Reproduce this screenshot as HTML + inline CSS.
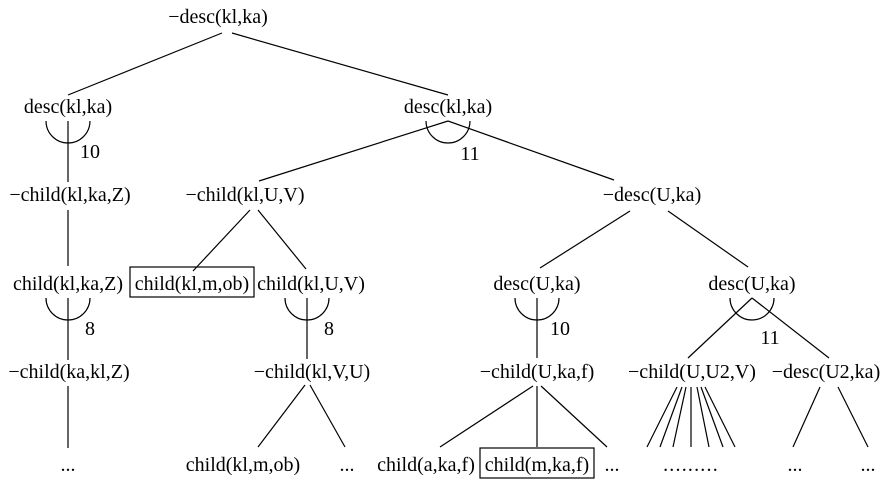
<!DOCTYPE html>
<html><head><style>
html,body{margin:0;padding:0;background:#fff;}
svg{display:block;}
text{font-family:"Liberation Serif",serif;font-size:20px;fill:#000;text-anchor:middle;}
</style></head><body>
<svg width="888" height="480" viewBox="0 0 888 480" xmlns="http://www.w3.org/2000/svg">
<g stroke="#000" stroke-width="1.2" fill="none">
<line x1="222" y1="33" x2="68" y2="95"/>
<line x1="232" y1="33" x2="448" y2="95"/>
<path d="M46 121 A22 22 0 0 0 90 121"/>
<line x1="68" y1="121" x2="68" y2="182"/>
<line x1="68" y1="210" x2="68" y2="266"/>
<path d="M46 298 A22 22 0 0 0 90 298"/>
<line x1="68" y1="298" x2="68" y2="360"/>
<line x1="68" y1="386" x2="68" y2="448"/>
<path d="M426 121 A22 22 0 0 0 470 121"/>
<line x1="448" y1="121" x2="259" y2="181"/>
<line x1="448" y1="121" x2="614" y2="180"/>
<line x1="250" y1="210" x2="193" y2="271"/>
<line x1="258" y1="210" x2="306" y2="269"/>
<rect x="130" y="267" width="124" height="30"/>
<path d="M285 298 A22 22 0 0 0 329 298"/>
<line x1="307" y1="298" x2="307" y2="359"/>
<line x1="305" y1="385" x2="258" y2="447"/>
<line x1="310" y1="385" x2="345" y2="447"/>
<line x1="630" y1="211" x2="540" y2="268"/>
<line x1="668" y1="211" x2="748" y2="267"/>
<path d="M515 298 A22 22 0 0 0 559 298"/>
<line x1="537" y1="298" x2="537" y2="358"/>
<line x1="533" y1="386" x2="440" y2="447"/>
<line x1="537" y1="386" x2="537" y2="447"/>
<line x1="541" y1="386" x2="607" y2="447"/>
<rect x="480" y="448" width="114" height="30"/>
<path d="M730 298 A22 22 0 0 0 774 298"/>
<line x1="752" y1="298" x2="688" y2="358"/>
<line x1="752" y1="298" x2="829" y2="358"/>
<line x1="677" y1="387" x2="647" y2="447"/>
<line x1="682" y1="387" x2="660" y2="447"/>
<line x1="686" y1="387" x2="673" y2="447"/>
<line x1="691" y1="387" x2="691" y2="447"/>
<line x1="697" y1="387" x2="709" y2="447"/>
<line x1="701" y1="387" x2="723" y2="447"/>
<line x1="705" y1="387" x2="735" y2="447"/>
<line x1="820" y1="387" x2="793" y2="447"/>
<line x1="838" y1="387" x2="868" y2="447"/>
</g>
<text x="218" y="23">−desc(kl,ka)</text>
<text x="68" y="113">desc(kl,ka)</text>
<text x="448" y="113">desc(kl,ka)</text>
<text x="90" y="158">10</text>
<text x="470" y="160">11</text>
<text x="70" y="201">−child(kl,ka,Z)</text>
<text x="245" y="201">−child(kl,U,V)</text>
<text x="652" y="201">−desc(U,ka)</text>
<text x="68" y="290">child(kl,ka,Z)</text>
<text x="192" y="290">child(kl,m,ob)</text>
<text x="311" y="290">child(kl,U,V)</text>
<text x="537" y="290">desc(U,ka)</text>
<text x="752" y="290">desc(U,ka)</text>
<text x="90" y="335">8</text>
<text x="329" y="335">8</text>
<text x="560" y="335">10</text>
<text x="770" y="344">11</text>
<text x="69" y="378">−child(ka,kl,Z)</text>
<text x="312" y="378">−child(kl,V,U)</text>
<text x="537" y="378">−child(U,ka,f)</text>
<text x="692" y="378">−child(U,U2,V)</text>
<text x="826" y="378">−desc(U2,ka)</text>
<text x="68" y="471">...</text>
<text x="243" y="471">child(kl,m,ob)</text>
<text x="347" y="471">...</text>
<text x="426" y="471">child(a,ka,f)</text>
<text x="537" y="471">child(m,ka,f)</text>
<text x="612" y="471">...</text>
<text x="691" y="471" style="letter-spacing:1.2px">.........</text>
<text x="795" y="471">...</text>
<text x="868" y="471">...</text>
</svg>
</body></html>
